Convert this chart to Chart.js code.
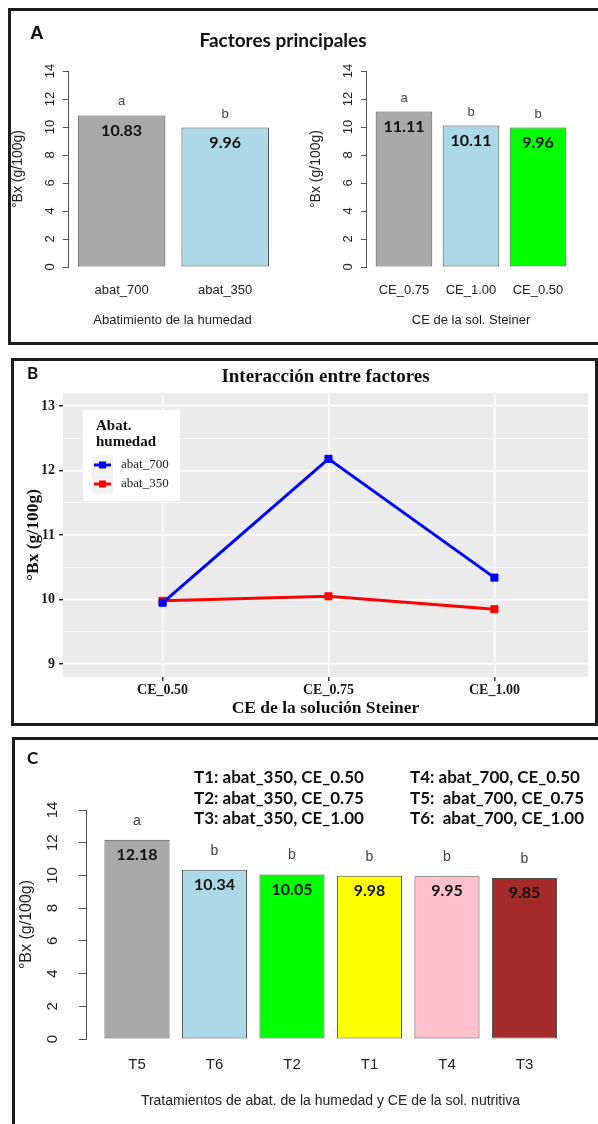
<!DOCTYPE html>
<html>
<head>
<meta charset="utf-8">
<script src="https://cdn.jsdelivr.net/npm/chart.js@4.4.1/dist/chart.umd.min.js"></script>
<style>
  body { margin: 0; width: 598px; height: 1124px; overflow: hidden; background: #fff; position: relative; }
  canvas, .box, .txt { position: absolute; }
  .box { border: 3px solid #1c1c1c; box-sizing: border-box; pointer-events: none; }
  .txt { white-space: pre; line-height: 1; color: #111; margin: 0; }
  .lato { font-family: Lato, "Noto Sans", sans-serif; font-weight: bold; }
</style>
</head>
<body>

<canvas id="a1" width="290" height="290" style="left:0;top:50px"></canvas>
<canvas id="a2" width="300" height="290" style="left:298px;top:50px"></canvas>
<canvas id="b" width="580" height="361" style="left:14px;top:361px"></canvas>
<canvas id="c" width="584" height="345" style="left:14px;top:775px"></canvas>

<div class="box" style="left:8px;top:8px;width:600px;height:337px;border-right:none"></div>
<div class="box" style="left:11px;top:358px;width:587px;height:368px"></div>
<div class="box" style="left:12px;top:737px;width:600px;height:400px;border-right:none;border-bottom:none"></div>

<div class="txt" style="left:30px;top:23px;font:bold 19px 'Liberation Sans',Arial,sans-serif;line-height:1">A</div>
<div class="txt lato" style="left:163px;top:30px;width:240px;text-align:center;font-size:19px">Factores principales</div>
<div class="txt lato" style="left:27px;top:364px;font-size:17px">B</div>
<div class="txt lato" style="left:27px;top:749px;font-size:17px">C</div>
<div class="txt lato" style="left:194px;top:767px;font-size:17px;line-height:20.5px">T1: abat_350, CE_0.50
T2: abat_350, CE_0.75
T3: abat_350, CE_1.00</div>
<div class="txt lato" style="left:410px;top:767px;font-size:17px;line-height:20.5px">T4: abat_700, CE_0.50
T5:  abat_700, CE_0.75
T6:  abat_700, CE_1.00</div>

<script>
// Panel A - factores principales
const catsA1 = ["abat_700", "abat_350"];
const valsA1 = [10.83, 9.96];
const letrasA1 = ["a", "b"];
const coresA1 = ["#A9A9A9", "#ADD8E6"];

const catsA2 = ["CE_0.75", "CE_1.00", "CE_0.50"];
const valsA2 = [11.11, 10.11, 9.96];
const letrasA2 = ["a", "b", "b"];
const coresA2 = ["#A9A9A9", "#ADD8E6", "#00FF00"];

const ticksA = [0, 2, 4, 6, 8, 10, 12, 14];

// Panel B - interaccion
const catsB = ["CE_0.50", "CE_0.75", "CE_1.00"];
const abat700 = [9.95, 12.18, 10.34];
const abat350 = [9.98, 10.05, 9.85];
const ticksB = [9, 10, 11, 12, 13];
const ticksBmenor = [9.5, 10.5, 11.5, 12.5];

// Panel C - tratamientos
const catsC = ["T5", "T6", "T2", "T1", "T4", "T3"];
const valsC = [12.18, 10.34, 10.05, 9.98, 9.95, 9.85];
const letrasC = ["a", "b", "b", "b", "b", "b"];
const coresC = ["#A9A9A9", "#ADD8E6", "#00FF00", "#FFFF00", "#FFC0CB", "#A52A2A"];
const ticksC = [0, 2, 4, 6, 8, 10, 12, 14];

const SANS = "'Liberation Sans', Arial, sans-serif";
const SERIF = "'Liberation Serif', 'Times New Roman', serif";
const LATO = "Lato, 'Noto Sans', sans-serif";

function rotulos(letras, fLetra, dLetra, dValor) {
    return {
        id: "rotulos",
        afterDatasetsDraw(chart) {
            const ctx = chart.ctx;
            const ds = chart.data.datasets[0];
            ctx.save();
            ctx.textAlign = "center";
            ctx.textBaseline = "middle";
            chart.getDatasetMeta(0).data.forEach((bar, i) => {
                ctx.font = fLetra + "px " + SANS;
                ctx.fillStyle = "#444";
                ctx.fillText(letras[i], bar.x, bar.y - dLetra);
                ctx.font = "bold 16px " + LATO;
                ctx.fillStyle = "#111";
                ctx.fillText(ds.data[i].y.toFixed(2), bar.x, bar.y + dValor);
            });
            ctx.restore();
        }
    };
}

function barras(id, c) {
    new Chart(document.getElementById(id), {
        type: "bar",
        data: {
            datasets: [{
                data: c.vals.map((v, i) => ({ x: i, y: v })),
                backgroundColor: c.cores,
                borderColor: "#4d4d4d",
                borderWidth: 1,
                borderSkipped: false,
                barPercentage: c.barPct,
                categoryPercentage: 1
            }]
        },
        options: {
            responsive: false,
            animation: false,
            devicePixelRatio: 1,
            layout: { padding: c.pad },
            plugins: { legend: { display: false }, tooltip: { enabled: false } },
            scales: {
                x: {
                    type: "linear",
                    offset: false,
                    min: c.xMin,
                    max: c.xMax,
                    afterBuildTicks: s => { s.ticks = c.cats.map((_, i) => ({ value: i })); },
                    afterFit: s => { s.height = c.xH; s.paddingLeft = 0; s.paddingRight = 0; },
                    grid: { display: false, drawTicks: false },
                    border: { display: false },
                    ticks: {
                        padding: c.xPad,
                        font: { family: SANS, size: c.fCat },
                        color: "#222",
                        autoSkip: false,
                        maxRotation: 0,
                        callback: v => c.cats[v]
                    },
                    title: {
                        display: true,
                        text: c.xTitulo,
                        font: { family: SANS, size: c.fXtit },
                        color: "#222",
                        padding: { top: 0, bottom: c.xTitPad }
                    }
                },
                y: {
                    min: 0,
                    max: 14,
                    afterBuildTicks: s => { s.ticks = c.ticks.map(v => ({ value: v })); },
                    afterFit: s => { s.width = c.yW; s.paddingTop = 0; s.paddingBottom = 0; },
                    grid: { drawOnChartArea: false, tickLength: c.tl, tickColor: "#555" },
                    border: { display: true, color: "#555", width: 1 },
                    ticks: {
                        minRotation: 90,
                        maxRotation: 90,
                        crossAlign: "center",
                        padding: c.yPad,
                        font: { family: SANS, size: c.fTick },
                        color: "#222"
                    },
                    title: {
                        display: true,
                        text: "°Bx (g/100g)",
                        font: { family: SANS, size: c.fYtit },
                        color: "#222",
                        padding: { top: c.yTitPad, bottom: 0 }
                    }
                }
            }
        },
        plugins: [rotulos(c.letras, c.fLetra, c.dLetra, c.dValor)]
    });
}

barras("a1", {
    cats: catsA1, vals: valsA1, cores: coresA1, letras: letrasA1, ticks: ticksA,
    xMin: -0.517, xMax: 1.5, barPct: 0.845,
    pad: { left: 0, right: 13, top: 21, bottom: 8 },
    xH: 65, xPad: 15.2, fCat: 13, xTitulo: "Abatimiento de la humedad", fXtit: 13, xTitPad: 4.2,
    yW: 68, tl: 5, yPad: 5.8, fTick: 13, fYtit: 14, yTitPad: 9.6,
    fLetra: 13, dLetra: 13.5, dValor: 15.5
});

barras("a2", {
    cats: catsA2, vals: valsA2, cores: coresA2, letras: letrasA2, ticks: ticksA,
    xMin: -0.567, xMax: 2.567, barPct: 0.845,
    pad: { left: 0, right: 22, top: 21, bottom: 8 },
    xH: 65, xPad: 15.2, fCat: 13, xTitulo: "CE de la sol. Steiner", fXtit: 13, xTitPad: 4.2,
    yW: 68, tl: 5, yPad: 5.8, fTick: 13, fYtit: 14, yTitPad: 9.6,
    fLetra: 13, dLetra: 13.5, dValor: 15.5
});

barras("c", {
    cats: catsC, vals: valsC, cores: coresC, letras: letrasC, ticks: ticksC,
    xMin: -0.658, xMax: 5.652, barPct: 0.84,
    pad: { left: 0, right: 23, top: 35, bottom: 9 },
    xH: 72, xPad: 17, fCat: 15, xTitulo: "Tratamientos de abat. de la humedad y CE de la sol. nutritiva", fXtit: 14, xTitPad: 1.6,
    yW: 72, tl: 7, yPad: 17.6, fTick: 15, fYtit: 16, yTitPad: 3.4,
    fLetra: 14, dLetra: 19, dValor: 15
});

// Panel B
const fundoCinza = {
    id: "fundoCinza",
    beforeDraw(chart) {
        const { ctx, chartArea: a } = chart;
        ctx.save();
        ctx.fillStyle = "#EBEBEB";
        ctx.fillRect(a.left, a.top, a.right - a.left, a.bottom - a.top);
        ctx.restore();
    }
};

const legendaB = {
    id: "legendaB",
    afterDraw(chart) {
        const ctx = chart.ctx;
        ctx.save();
        ctx.fillStyle = "#fff";
        ctx.fillRect(69, 49, 97, 91);
        ctx.fillStyle = "#111";
        ctx.textBaseline = "middle";
        ctx.font = "bold 15px " + SERIF;
        ctx.fillText("Abat.", 82, 65);
        ctx.fillText("humedad", 82, 81);
        chart.data.datasets.forEach((ds, i) => {
            const y = 104 + i * 19;
            ctx.fillStyle = "#F2F2F2";
            ctx.fillRect(78, y - 9.5, 21, 19);
            ctx.strokeStyle = ds.borderColor;
            ctx.lineWidth = 3;
            ctx.beginPath();
            ctx.moveTo(80, y);
            ctx.lineTo(97, y);
            ctx.stroke();
            ctx.fillStyle = ds.borderColor;
            ctx.fillRect(85, y - 3.5, 7, 7);
            ctx.fillStyle = "#222";
            ctx.font = "13px " + SERIF;
            ctx.fillText(ds.label, 107, y);
        });
        ctx.restore();
    }
};

function serie(label, vals, cor) {
    return {
        label: label,
        data: vals.map((v, i) => ({ x: i, y: v })),
        borderColor: cor,
        backgroundColor: cor,
        borderWidth: 3,
        pointStyle: "rect",
        pointRadius: 5,
        pointBorderWidth: 1
    };
}

new Chart(document.getElementById("b"), {
    type: "line",
    data: {
        datasets: [
            serie("abat_700", abat700, "#0000FF"),
            serie("abat_350", abat350, "#FF0000")
        ]
    },
    options: {
        responsive: false,
        animation: false,
        devicePixelRatio: 1,
        layout: { padding: { left: 0, right: 1, top: 0, bottom: 0 } },
        plugins: {
            legend: { display: false },
            tooltip: { enabled: false },
            title: {
                display: true,
                text: "Interacción entre factores",
                fullSize: false,
                color: "#111",
                font: { family: SERIF, size: 19, weight: "bold" },
                padding: { top: 4.6, bottom: 4.6 }
            }
        },
        scales: {
            x: {
                type: "linear",
                offset: false,
                min: -0.6,
                max: 2.564,
                afterBuildTicks: s => { s.ticks = catsB.map((_, i) => ({ value: i })); },
                afterFit: s => { s.height = 45; s.paddingLeft = 0; s.paddingRight = 0; },
                grid: { color: "#fff", lineWidth: 1.5, tickColor: "#333", tickLength: 4 },
                border: { display: false },
                ticks: {
                    padding: 0.6,
                    autoSkip: false,
                    maxRotation: 0,
                    color: "#1a1a1a",
                    font: { family: SERIF, size: 14, weight: "bold" },
                    callback: v => catsB[v]
                },
                title: {
                    display: true,
                    text: "CE de la solución Steiner",
                    color: "#111",
                    font: { family: SERIF, size: 17.5, weight: "bold" },
                    padding: { top: 0, bottom: 3.5 }
                }
            },
            y: {
                min: 8.8,
                max: 13.2,
                afterBuildTicks: s => {
                    s.ticks = ticksB.concat(ticksBmenor).sort((p, q) => p - q).map(v => ({ value: v }));
                },
                afterFit: s => { s.width = 49; s.paddingTop = 0; s.paddingBottom = 0; },
                grid: {
                    color: "#fff",
                    lineWidth: c => (c.tick && ticksB.includes(c.tick.value)) ? 1.5 : 0.7,
                    tickColor: c => (c.tick && ticksB.includes(c.tick.value)) ? "#333" : "rgba(0,0,0,0)",
                    tickLength: 4
                },
                border: { display: false },
                ticks: {
                    padding: 4,
                    autoSkip: false,
                    color: "#1a1a1a",
                    font: { family: SERIF, size: 14, weight: "bold" },
                    callback: v => ticksB.includes(v) ? String(v) : ""
                },
                title: {
                    display: true,
                    text: "°Bx (g/100g)",
                    color: "#111",
                    font: { family: SERIF, size: 17.5, weight: "bold" },
                    padding: { top: 8.5, bottom: 0 }
                }
            }
        }
    },
    plugins: [fundoCinza, legendaB]
});
</script>
</body>
</html>
